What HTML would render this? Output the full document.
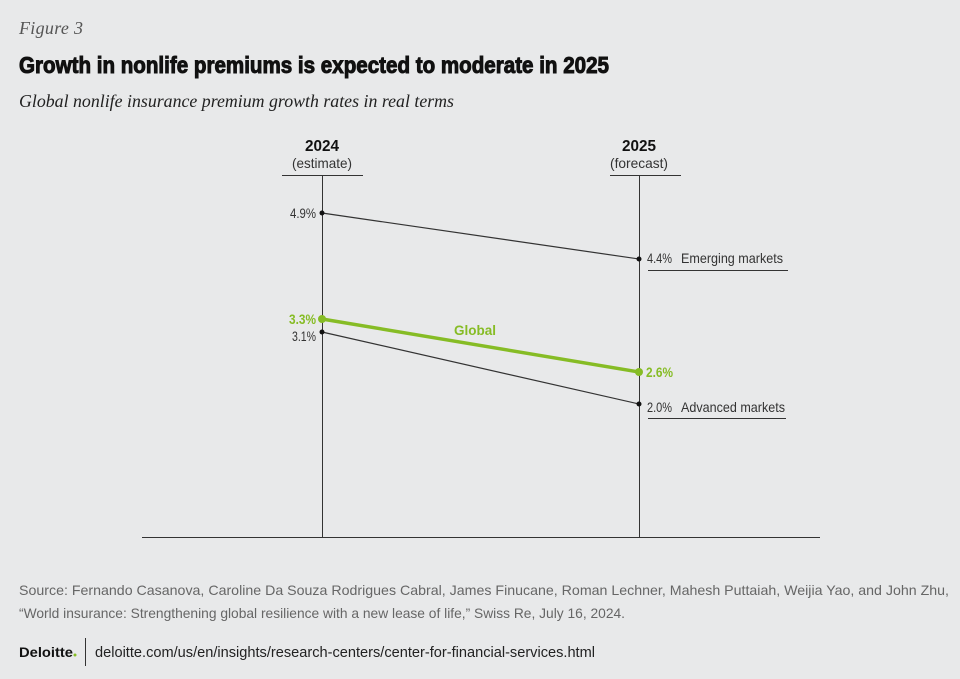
<!DOCTYPE html>
<html><head><meta charset="utf-8"><style>
body{margin:0;background:#e8e9ea;}
svg{display:block}
</style></head><body>
<svg width="960" height="679" viewBox="0 0 960 679" xmlns="http://www.w3.org/2000/svg">
<rect width="960" height="679" fill="#e8e9ea"/>
<text x="19" y="34" font-family="Liberation Serif, serif" font-style="italic" font-size="18" fill="#555" textLength="64">Figure 3</text>
<text x="19" y="73" font-family="Liberation Sans, sans-serif" font-weight="bold" font-size="23" fill="#111" textLength="590" lengthAdjust="spacingAndGlyphs" stroke="#111" stroke-width="1">Growth in nonlife premiums is expected to moderate in 2025</text>
<text x="19" y="107" font-family="Liberation Serif, serif" font-style="italic" font-size="18" fill="#222" textLength="435" lengthAdjust="spacingAndGlyphs">Global nonlife insurance premium growth rates in real terms</text>

<g font-family="Liberation Sans, sans-serif">
<text x="322" y="151" text-anchor="middle" font-weight="bold" font-size="16" fill="#111" textLength="34" lengthAdjust="spacingAndGlyphs">2024</text>
<text x="322" y="168" text-anchor="middle" font-size="14" fill="#333" textLength="60" lengthAdjust="spacingAndGlyphs">(estimate)</text>
<text x="639" y="151" text-anchor="middle" font-weight="bold" font-size="16" fill="#111" textLength="34" lengthAdjust="spacingAndGlyphs">2025</text>
<text x="639" y="168" text-anchor="middle" font-size="14" fill="#333" textLength="58" lengthAdjust="spacingAndGlyphs">(forecast)</text>
</g>
<g stroke="#333" stroke-width="1" fill="none">
<line x1="282" y1="175.5" x2="363" y2="175.5"/>
<line x1="610" y1="175.5" x2="681" y2="175.5"/>
<line x1="322.5" y1="175" x2="322.5" y2="537"/>
<line x1="639.5" y1="175" x2="639.5" y2="537"/>
<line x1="142" y1="537.5" x2="820" y2="537.5"/>
<line x1="648" y1="270.5" x2="788" y2="270.5"/>
<line x1="648" y1="418.5" x2="786" y2="418.5"/>
<line x1="322" y1="213" x2="639" y2="259" stroke-width="1.2"/>
<line x1="322" y1="332" x2="639" y2="404" stroke-width="1.2"/>
</g>
<line x1="322" y1="319" x2="639" y2="372" stroke="#86bc25" stroke-width="3.5"/>
<g fill="#111"><circle cx="322" cy="213" r="2.5"/><circle cx="639" cy="259" r="2.5"/><circle cx="322" cy="332" r="2.5"/><circle cx="639" cy="404" r="2.5"/></g>
<g fill="#86bc25"><circle cx="322" cy="319" r="4"/><circle cx="639" cy="372" r="4"/></g>
<g font-family="Liberation Sans, sans-serif" font-size="14" fill="#333">
<text x="316" y="218" text-anchor="end" textLength="26" lengthAdjust="spacingAndGlyphs">4.9%</text>
<text x="316" y="341" text-anchor="end" textLength="24" lengthAdjust="spacingAndGlyphs">3.1%</text>
<text x="647" y="263" textLength="25" lengthAdjust="spacingAndGlyphs">4.4%</text>
<text x="681" y="263" textLength="102" lengthAdjust="spacingAndGlyphs">Emerging markets</text>
<text x="647" y="412" textLength="25" lengthAdjust="spacingAndGlyphs">2.0%</text>
<text x="681" y="412" textLength="104" lengthAdjust="spacingAndGlyphs">Advanced markets</text>
</g>
<g font-family="Liberation Sans, sans-serif" font-size="14" font-weight="bold" fill="#86bc25">
<text x="316" y="324" text-anchor="end" textLength="27" lengthAdjust="spacingAndGlyphs">3.3%</text>
<text x="646" y="377" textLength="27" lengthAdjust="spacingAndGlyphs">2.6%</text>
<text x="454" y="335" textLength="42" lengthAdjust="spacingAndGlyphs">Global</text>
</g>
<g font-family="Liberation Sans, sans-serif" font-size="14" fill="#666">
<text x="19" y="595" textLength="930" lengthAdjust="spacingAndGlyphs">Source: Fernando Casanova, Caroline Da Souza Rodrigues Cabral, James Finucane, Roman Lechner, Mahesh Puttaiah, Weijia Yao, and John Zhu,</text>
<text x="19" y="618" textLength="606" lengthAdjust="spacingAndGlyphs">“World insurance: Strengthening global resilience with a new lease of life,” Swiss Re, July 16, 2024.</text>
</g>
<text x="19" y="657" font-family="Liberation Sans, sans-serif" font-weight="bold" font-size="14" fill="#111" textLength="54" lengthAdjust="spacingAndGlyphs">Deloitte</text>
<circle cx="75" cy="655" r="1.5" fill="#86bc25"/>
<line x1="85.5" y1="638" x2="85.5" y2="666" stroke="#333" stroke-width="1"/>
<text x="95" y="657" font-family="Liberation Sans, sans-serif" font-size="15" fill="#222" textLength="500" lengthAdjust="spacingAndGlyphs">deloitte.com/us/en/insights/research-centers/center-for-financial-services.html</text>
</svg>
</body></html>
